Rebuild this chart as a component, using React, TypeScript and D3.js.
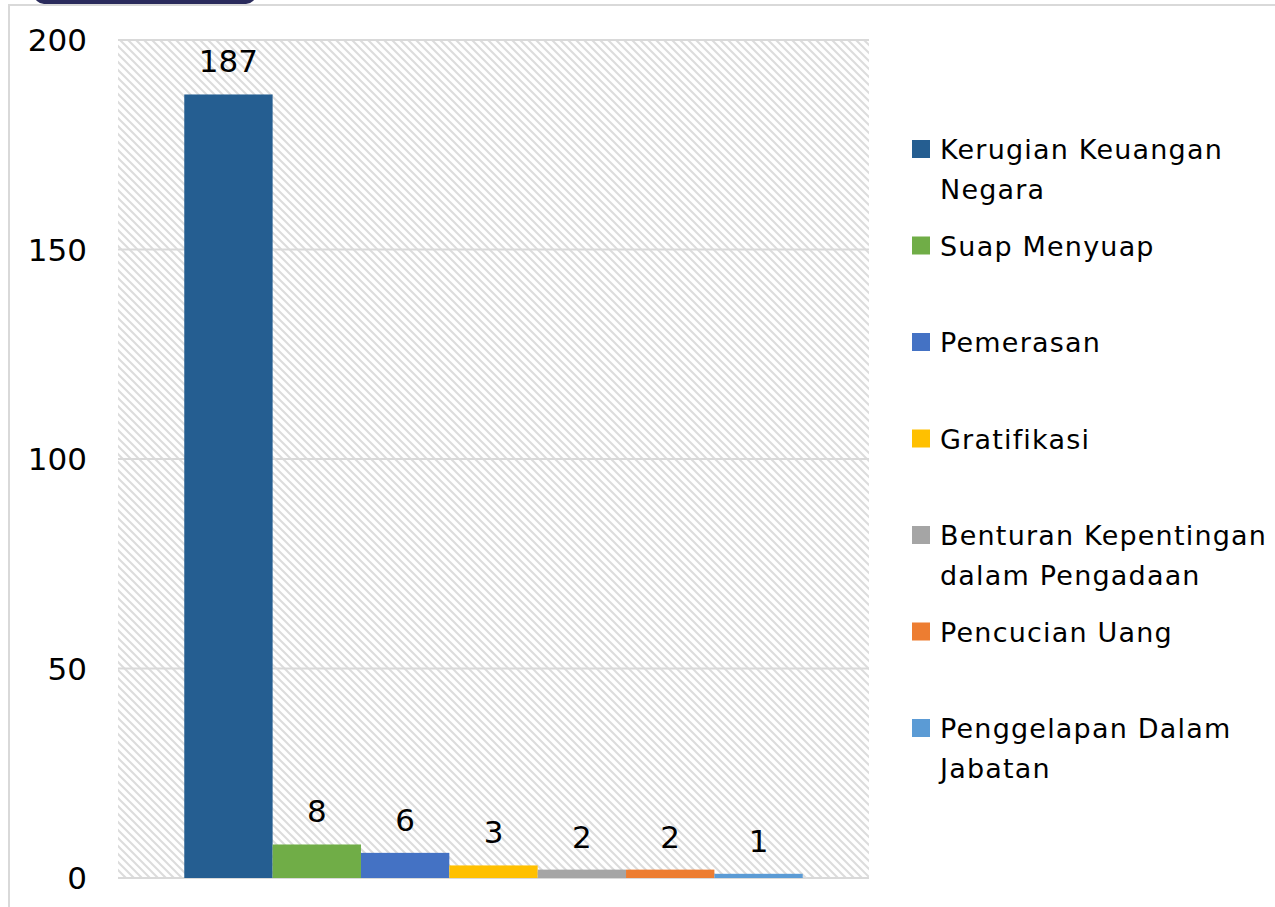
import * as d3 from 'd3'

const series = [
  'Kerugian Keuangan Negara',
  'Suap Menyuap',
  'Pemerasan',
  'Gratifikasi',
  'Benturan Kepentingan dalam Pengadaan',
  'Pencucian Uang',
  'Penggelapan Dalam Jabatan',
]
const values = [187, 8, 6, 3, 2, 2, 1]
const colors = ['#255e91', '#70ad47', '#4472c4', '#ffc000', '#a5a5a5', '#ed7d31', '#5b9bd5']
// how the legend wraps each name
const legendLines = [
  ['Kerugian Keuangan', 'Negara'],
  ['Suap Menyuap'],
  ['Pemerasan'],
  ['Gratifikasi'],
  ['Benturan Kepentingan', 'dalam Pengadaan'],
  ['Pencucian Uang'],
  ['Penggelapan Dalam', 'Jabatan'],
]
const yTicks = [0, 50, 100, 150, 200]

const width = 1275
const height = 907
const plotLeft = 118
const plotRight = 869
const plotTop = 40
const plotBottom = 878
const font = '"DejaVu Sans", sans-serif'

export default function App() {
  const y = d3.scaleLinear([0, 200], [plotBottom, plotTop])
  const x = d3.scaleBand(series, [plotLeft, plotRight]).paddingInner(0).paddingOuter(0.75)
  const legendY = d3.scalePoint(series, [149, 728])

  return (
    <svg
      width={width}
      height={height}
      style={{ position: 'absolute', left: 0, top: 0, background: '#fff' }}
      fontFamily={font}
    >
      <defs>
        <pattern id="hatch" patternUnits="userSpaceOnUse" width="8" height="8">
          <rect width="8" height="8" fill="#fff" />
          <path d="M0,0L8,8M-2,6L2,10M6,-2L10,2" stroke="#dcdcdc" strokeWidth="2" />
        </pattern>
      </defs>

      {/* cut-off title box and chart frame */}
      <rect x={34} y={-20} width={222} height={24} rx={10} fill="#2a2b5c" />
      <path d={`M9,${height + 5}V5H${width + 5}`} fill="none" stroke="#d9d9d9" strokeWidth="2" />

      <rect x={plotLeft} y={plotTop} width={plotRight - plotLeft} height={plotBottom - plotTop} fill="url(#hatch)" />

      {yTicks.map((t) => (
        <g key={t}>
          <line x1={plotLeft} x2={plotRight} y1={y(t)} y2={y(t)} stroke="#d9d9d9" strokeWidth="2" />
          <text x={87} y={y(t)} dy="0.36em" textAnchor="end" fontSize={31} fill="#000">
            {t}
          </text>
        </g>
      ))}

      {series.map((s, i) => (
        <g key={s}>
          <rect
            x={x(s)}
            y={y(values[i])}
            width={x.bandwidth()}
            height={plotBottom - y(values[i])}
            fill={colors[i]}
          />
          <text
            x={(x(s) ?? 0) + x.bandwidth() / 2}
            y={y(values[i]) - 22}
            textAnchor="middle"
            fontSize={31}
            fill="#000"
          >
            {values[i]}
          </text>
        </g>
      ))}

      {series.map((s, i) => {
        const cy = legendY(s) ?? 0
        return (
          <g key={s}>
            <rect x={912} y={cy - 9} width={18} height={18} fill={colors[i]} />
            <text x={940} y={cy + 10} fontSize={27} letterSpacing={1.2} fill="#000">
              {legendLines[i].map((line, k) => (
                <tspan key={k} x={940} dy={k === 0 ? 0 : 40}>
                  {line}
                </tspan>
              ))}
            </text>
          </g>
        )
      })}
    </svg>
  )
}
